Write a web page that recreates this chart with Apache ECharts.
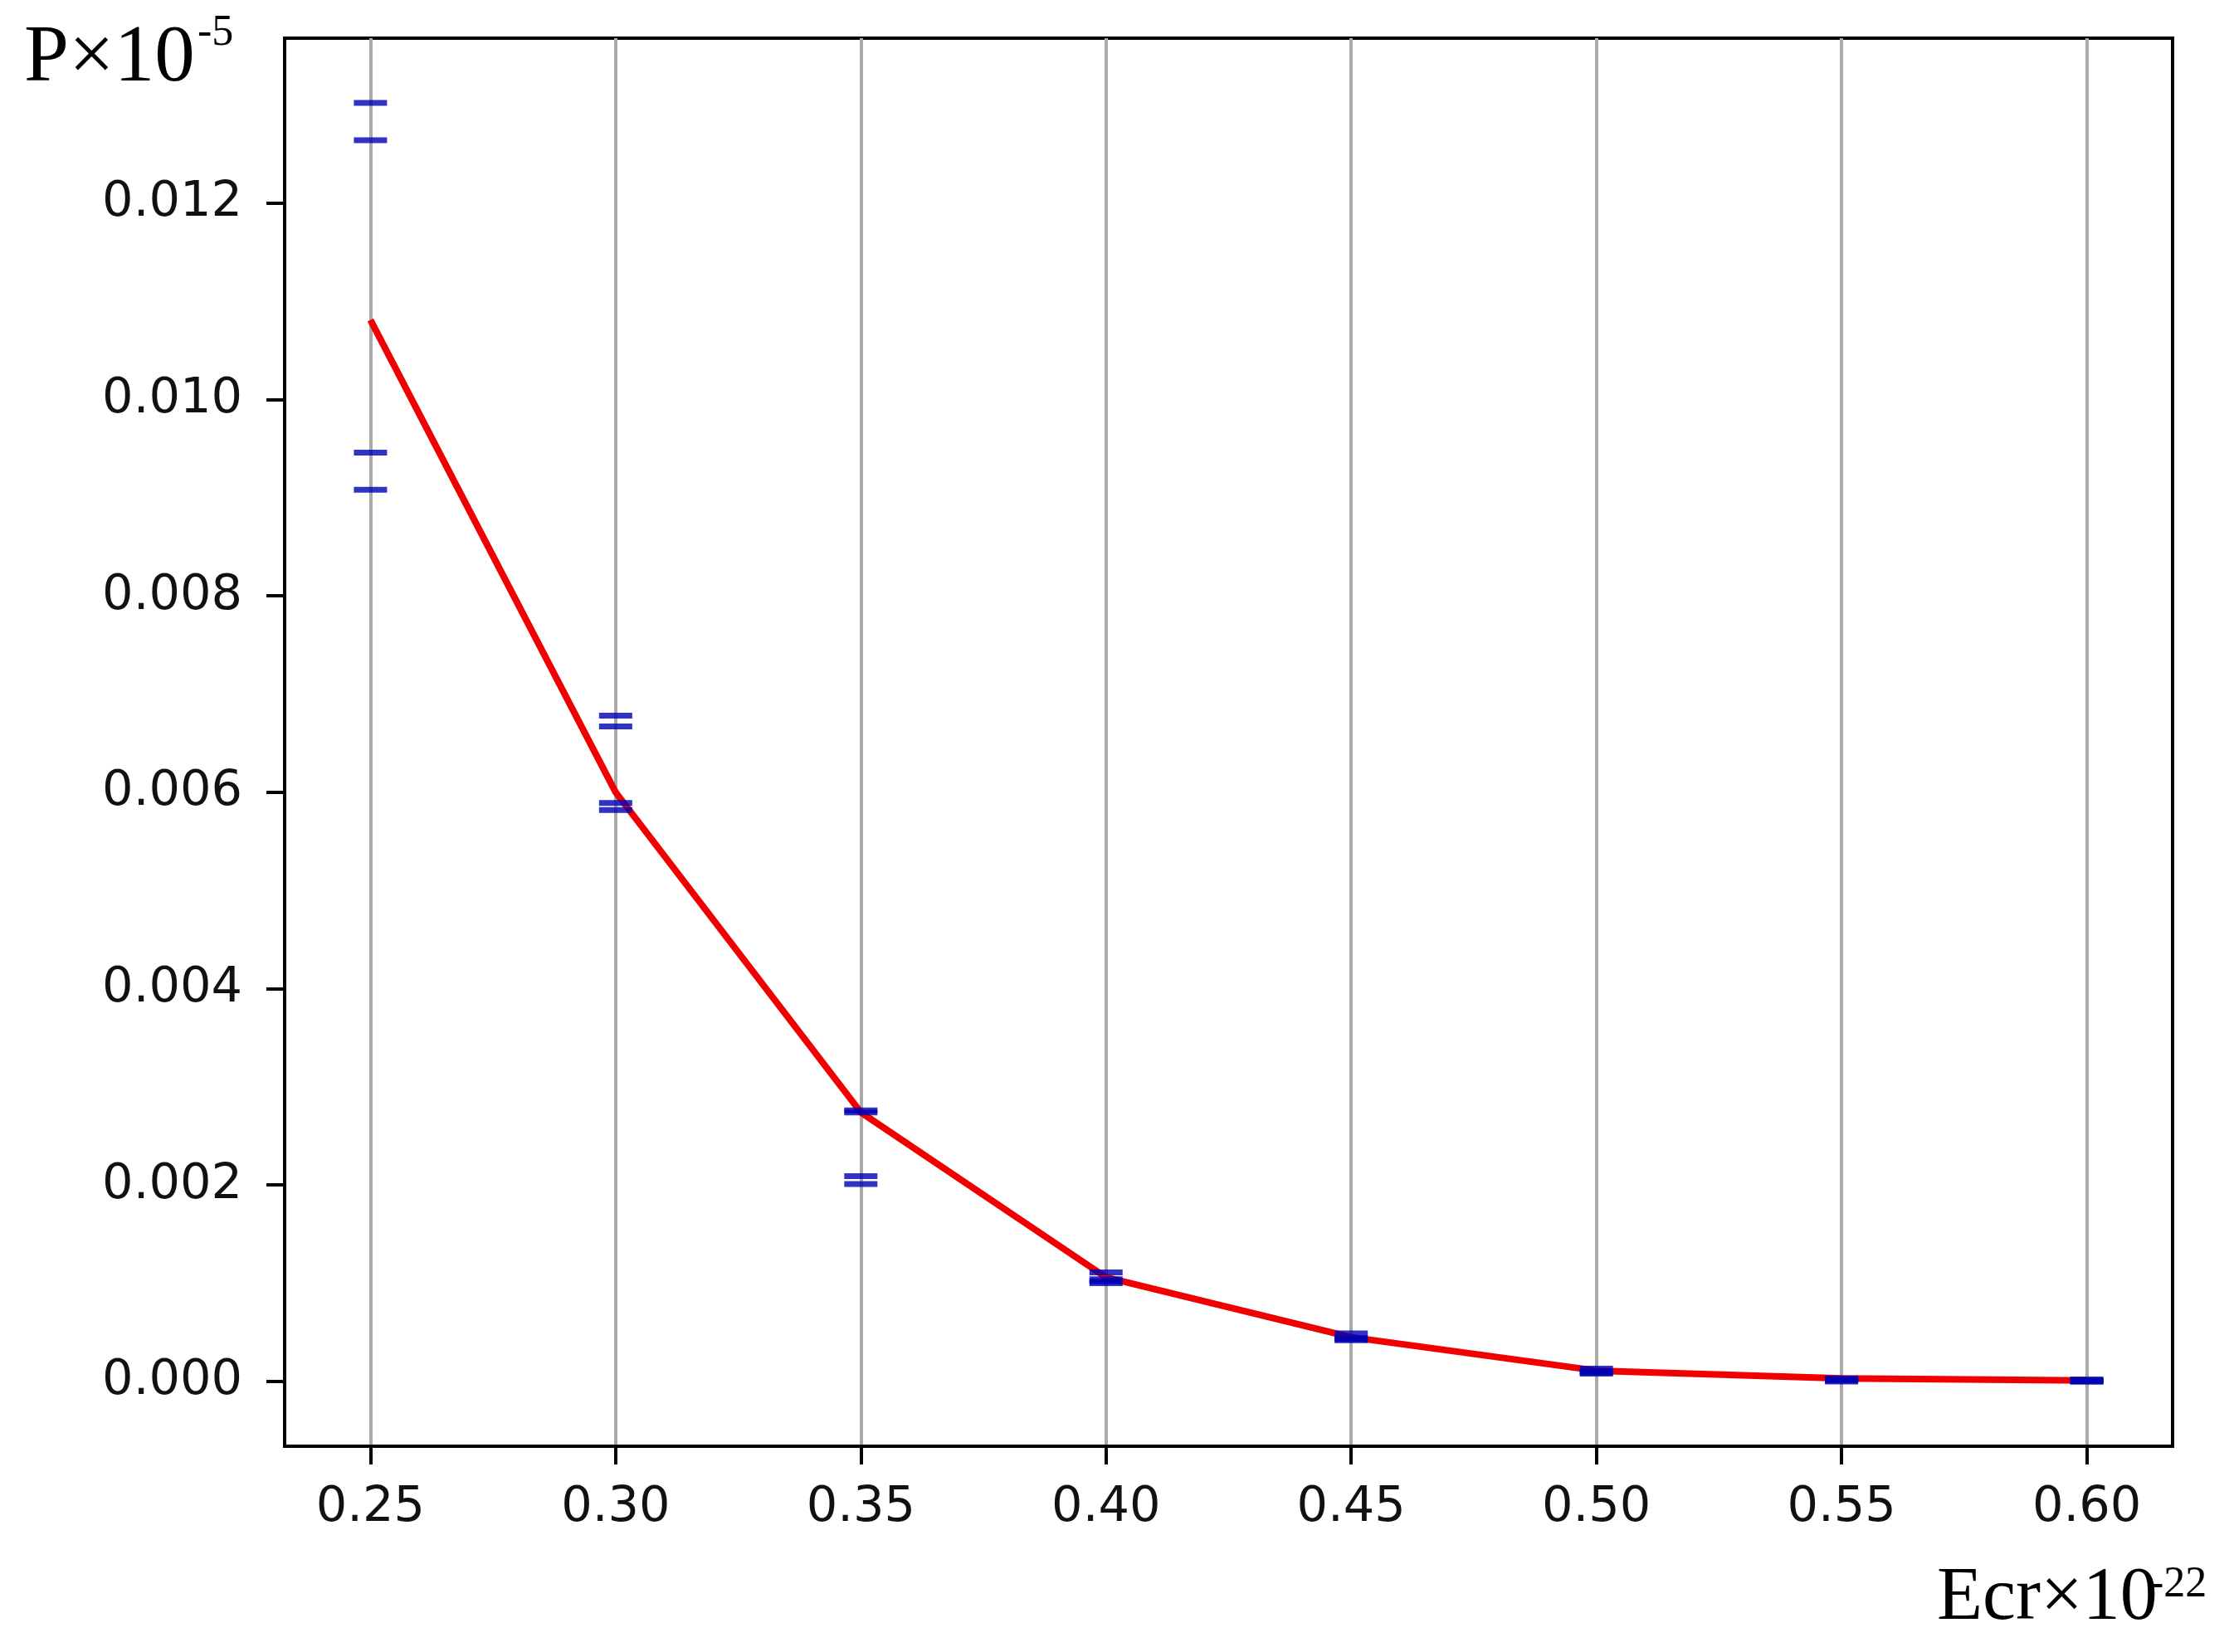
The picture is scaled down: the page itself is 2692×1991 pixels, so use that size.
<!DOCTYPE html>
<html>
<head>
    <meta charset="utf-8"/>
    <title>P - Ecr</title>
    <script src="https://cdn.jsdelivr.net/npm/echarts@6/dist/echarts.min.js"></script>
    <style>
        html, body { margin: 0; padding: 0; background: #fff; }
        #main { width: 2692px; height: 1991px; }
    </style>
</head>
<body>
<div id="main"></div>

<script type="text/javascript">
    // 横坐标 Ecr
    var ecr = [0.25, 0.30, 0.35, 0.40, 0.45, 0.50, 0.55, 0.60];
    // 红线 P 值
    var pLine = [0.01081, 0.00600, 0.00274, 0.00106, 0.00045, 0.00011, 0.00003, 0.00001];
    // 误差线端帽（蓝色短横）
    var capHighA = [0.01302, 0.00678, 0.00276, 0.00111, 0.00049, 0.00013, 0.00003, 0.00002];
    var capHighB = [0.01264, 0.00667, 0.00274, 0.00102, 0.00042, 0.00008, 0.00001, 0.00000];
    var capLowA  = [0.00946, 0.00589, 0.00209, 0.00104, 0.00044, 0.00010, 0.00002, 0.00001];
    var capLowB  = [0.00908, 0.00582, 0.00201, 0.00100, 0.00043, 0.00009, 0.00000, 0.00000];
    // 刻度
    var xTicks = [0.25, 0.30, 0.35, 0.40, 0.45, 0.50, 0.55, 0.60];
    var yTicks = [0.000, 0.002, 0.004, 0.006, 0.008, 0.010, 0.012];

    var myChart = echarts.init(document.getElementById('main'));

    var linePts = [];
    var capPts = [];
    for (var i = 0; i < ecr.length; i++) {
        linePts.push([ecr[i], pLine[i]]);
        capPts.push([ecr[i], capHighA[i]]);
        capPts.push([ecr[i], capHighB[i]]);
        capPts.push([ecr[i], capLowA[i]]);
        capPts.push([ecr[i], capLowB[i]]);
    }

    var labelFont = {fontFamily: 'DejaVu Sans', fontSize: 59, color: '#111'};

    myChart.setOption({
        animation: false,
        backgroundColor: '#fff',
        grid: {
            left: 343, right: 74, top: 46, bottom: 248,
            show: true, borderColor: '#000', borderWidth: 4, backgroundColor: '#fff'
        },
        xAxis: {
            type: 'value',
            min: 0.2325,
            max: 0.6175,
            axisLine: {show: true, onZero: false, lineStyle: {color: '#000', width: 4}},
            axisTick: {show: true, customValues: xTicks, length: 22, lineStyle: {color: '#000', width: 4}},
            axisLabel: {
                customValues: xTicks, margin: 45,
                fontFamily: labelFont.fontFamily, fontSize: labelFont.fontSize, color: labelFont.color,
                formatter: function (v) { return v.toFixed(2); }
            },
            splitLine: {show: true, lineStyle: {color: '#aaaaaa', width: 4}}
        },
        yAxis: {
            type: 'value',
            min: -0.00066,
            max: 0.01368,
            axisLine: {show: true, onZero: false, lineStyle: {color: '#000', width: 4}},
            axisTick: {show: true, customValues: yTicks, length: 22, lineStyle: {color: '#000', width: 4}},
            axisLabel: {
                customValues: yTicks, margin: 51,
                fontFamily: labelFont.fontFamily, fontSize: labelFont.fontSize, color: labelFont.color,
                formatter: function (v) { return v.toFixed(3); }
            },
            splitLine: {show: false}
        },
        series: [
            {
                name: 'P',
                type: 'line',
                data: linePts,
                symbol: 'none',
                lineStyle: {color: '#f00000', width: 8},
                z: 3
            },
            {
                name: 'err',
                type: 'scatter',
                data: capPts,
                symbol: 'rect',
                symbolSize: [40, 7],
                itemStyle: {color: '#0000b4'},
                z: 4
            }
        ],
        graphic: [
            // 纵轴标题 P×10^-5
            {type: 'text', left: 29, top: 23, style: {text: 'P×10', font: '97px "Liberation Serif"', fill: '#000'}},
            {type: 'text', left: 238, top: 14, style: {text: '-5', font: '52px "Liberation Serif"', fill: '#000'}},
            // 横轴标题 Ecr×10^-22
            {type: 'text', left: 2334, top: 1882, style: {text: 'Ecr×10', font: '90px "Liberation Serif"', fill: '#000'}},
            {type: 'text', left: 2590, top: 1884, style: {text: '-22', font: '52px "Liberation Serif"', fill: '#000'}}
        ]
    });
</script>
</body>
</html>
